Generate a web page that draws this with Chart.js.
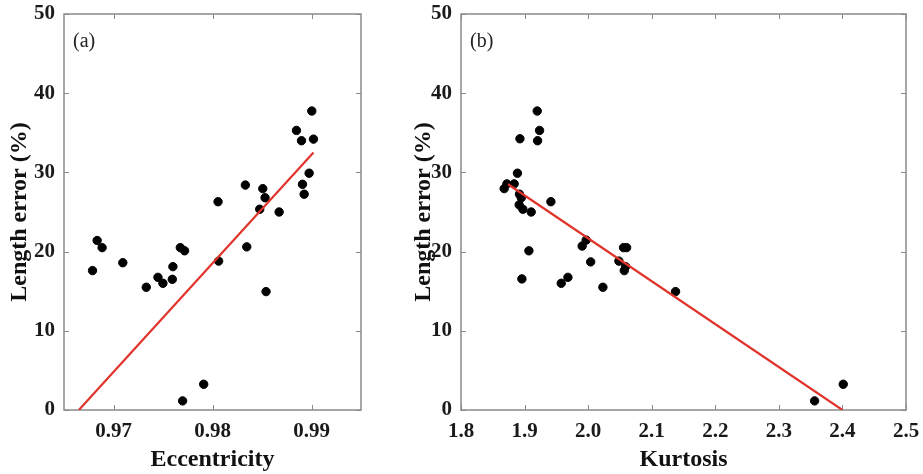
<!DOCTYPE html>
<html>
<head>
<meta charset="utf-8">
<script src="https://cdn.jsdelivr.net/npm/chart.js@4.4.0/dist/chart.umd.min.js"></script>
<style>
  body { margin: 0; background: #fff; }
  .panel { position: absolute; top: 0; }
</style>
</head>
<body>
<div class="panel" style="left:0"><canvas id="chartA" width="400" height="474"></canvas></div>
<div class="panel" style="left:400px"><canvas id="chartB" width="523" height="474"></canvas></div>
<script>
// panel (a): eccentricity vs length error
const eccX = [0.96788, 0.96835, 0.96885, 0.97094, 0.97331, 0.97449, 0.97499, 0.97594, 0.97600, 0.97675,
  0.97718, 0.97698, 0.97911, 0.98056, 0.98062, 0.98332, 0.98346, 0.98477, 0.98508, 0.98531,
  0.98541, 0.98673, 0.98848, 0.98899, 0.98909, 0.98926, 0.98976, 0.99003, 0.99020];
const eccY = [17.6, 21.4, 20.5, 18.6, 15.5, 16.75, 16.0, 16.5, 18.1, 20.5,
  20.1, 1.15, 3.25, 26.3, 18.8, 28.4, 20.6, 25.35, 27.95, 26.8,
  14.95, 25.0, 35.3, 34.0, 28.5, 27.25, 29.9, 37.75, 34.2];
const eccFitX = [0.9665, 0.9902];
const eccFitY = [0, 32.5];
const eccTicks = [0.97, 0.98, 0.99];

// panel (b): kurtosis vs length error
const kurtX = [1.8679, 1.8722, 1.8836, 1.8888, 1.8927, 1.8920, 1.8948, 1.8915, 1.8973, 1.9104,
  1.9068, 1.8958, 1.9199, 1.9236, 1.9205, 1.9414, 1.9577, 1.9682, 1.9906, 1.9969,
  2.0040, 2.0232, 2.0484, 2.0557, 2.0605, 2.0589, 2.0568, 2.1375, 2.3562, 2.4013];
const kurtY = [27.95, 28.55, 28.55, 29.9, 34.25, 27.25, 26.8, 25.9, 25.35, 25.0,
  20.1, 16.55, 37.75, 35.3, 34.0, 26.3, 16.0, 16.75, 20.7, 21.45,
  18.7, 15.5, 18.8, 20.5, 20.5, 18.1, 17.6, 14.95, 1.15, 3.25];
const kurtFitX = [1.874, 2.400];
const kurtFitY = [28.5, 0];
const kurtTicks = [1.8, 1.9, 2.0, 2.1, 2.2, 2.3, 2.4, 2.5];

const yTicks = [0, 10, 20, 30, 40, 50];

const serif = '"Liberation Serif", "Times New Roman", serif';

// box round the plot with small inward ticks on all four sides, plus the panel tag
const frame = {
  id: 'frame',
  beforeDatasetsDraw(chart, args, opts) {
    const { ctx, chartArea: a, scales: { x, y } } = chart;
    ctx.save();
    ctx.strokeStyle = '#8a8a8a';
    ctx.lineWidth = 1.5;
    ctx.strokeRect(a.left, a.top, a.right - a.left, a.bottom - a.top);
    ctx.lineWidth = 1;
    ctx.beginPath();
    x.ticks.forEach(t => {
      const px = Math.round(x.getPixelForValue(t.value)) + 0.5;
      ctx.moveTo(px, a.bottom); ctx.lineTo(px, a.bottom - 5);
      ctx.moveTo(px, a.top); ctx.lineTo(px, a.top + 5);
    });
    y.ticks.forEach(t => {
      const py = Math.round(y.getPixelForValue(t.value)) + 0.5;
      ctx.moveTo(a.left, py); ctx.lineTo(a.left + 5, py);
      ctx.moveTo(a.right, py); ctx.lineTo(a.right - 5, py);
    });
    ctx.stroke();
    ctx.fillStyle = '#222';
    ctx.font = '20px ' + serif;
    ctx.textBaseline = 'alphabetic';
    ctx.fillText(opts.label, a.left + 9, a.top + 33);
    ctx.restore();
  }
};

function makePanel(id, xs, ys, fitX, fitY, xTicks, xMin, xMax, digits, xTitle, tag, yWidth, rightPad, yTitlePad) {
  new Chart(document.getElementById(id), {
    type: 'scatter',
    data: {
      datasets: [
        {
          type: 'line',
          data: fitX.map((v, i) => ({ x: v, y: fitY[i] })),
          borderColor: '#e0332b',
          borderWidth: 2.2,
          pointRadius: 0,
          order: 0
        },
        {
          data: xs.map((v, i) => ({ x: v, y: ys[i] })),
          backgroundColor: '#000',
          borderColor: '#000',
          pointRadius: 4.2,
          order: 1
        }
      ]
    },
    options: {
      responsive: false,
      animation: false,
      layout: { padding: { top: 14, right: rightPad, left: 0, bottom: 0 } },
      plugins: {
        legend: { display: false },
        tooltip: { enabled: false },
        frame: { label: tag }
      },
      scales: {
        x: {
          type: 'linear',
          min: xMin,
          max: xMax,
          afterBuildTicks: s => { s.ticks = xTicks.map(v => ({ value: v })); },
          afterFit: s => { s.height = 64; s.paddingLeft = 0; s.paddingRight = 0; },
          grid: { display: false, drawTicks: false },
          border: { display: false },
          ticks: {
            padding: 9,
            color: '#1a1a1a',
            font: { family: serif, size: 21, weight: 'bold' },
            callback: v => Number(v).toFixed(digits)
          },
          title: {
            display: true,
            text: xTitle,
            color: '#111',
            padding: { top: 5, bottom: 0 },
            font: { family: serif, size: 24, weight: 'bold' }
          }
        },
        y: {
          min: 0,
          max: 50,
          afterBuildTicks: s => { s.ticks = yTicks.map(v => ({ value: v })); },
          afterFit: s => { s.width = yWidth; s.paddingTop = 0; s.paddingBottom = 0; },
          grid: { display: false, drawTicks: false },
          border: { display: false },
          ticks: {
            padding: 9,
            color: '#1a1a1a',
            font: { family: serif, size: 21, weight: 'bold' }
          },
          title: {
            display: true,
            text: 'Length error (%)',
            color: '#111',
            padding: { top: yTitlePad, bottom: 0 },
            font: { family: serif, size: 24, weight: 'bold' }
          }
        }
      }
    },
    plugins: [frame]
  });
}

makePanel('chartA', eccX, eccY, eccFitX, eccFitY, eccTicks, 0.965, 0.995, 2, 'Eccentricity', '(a)', 64, 39, 5);
makePanel('chartB', kurtX, kurtY, kurtFitX, kurtFitY, kurtTicks, 1.8, 2.5, 1, 'Kurtosis', '(b)', 61, 17, 9);
</script>
</body>
</html>
